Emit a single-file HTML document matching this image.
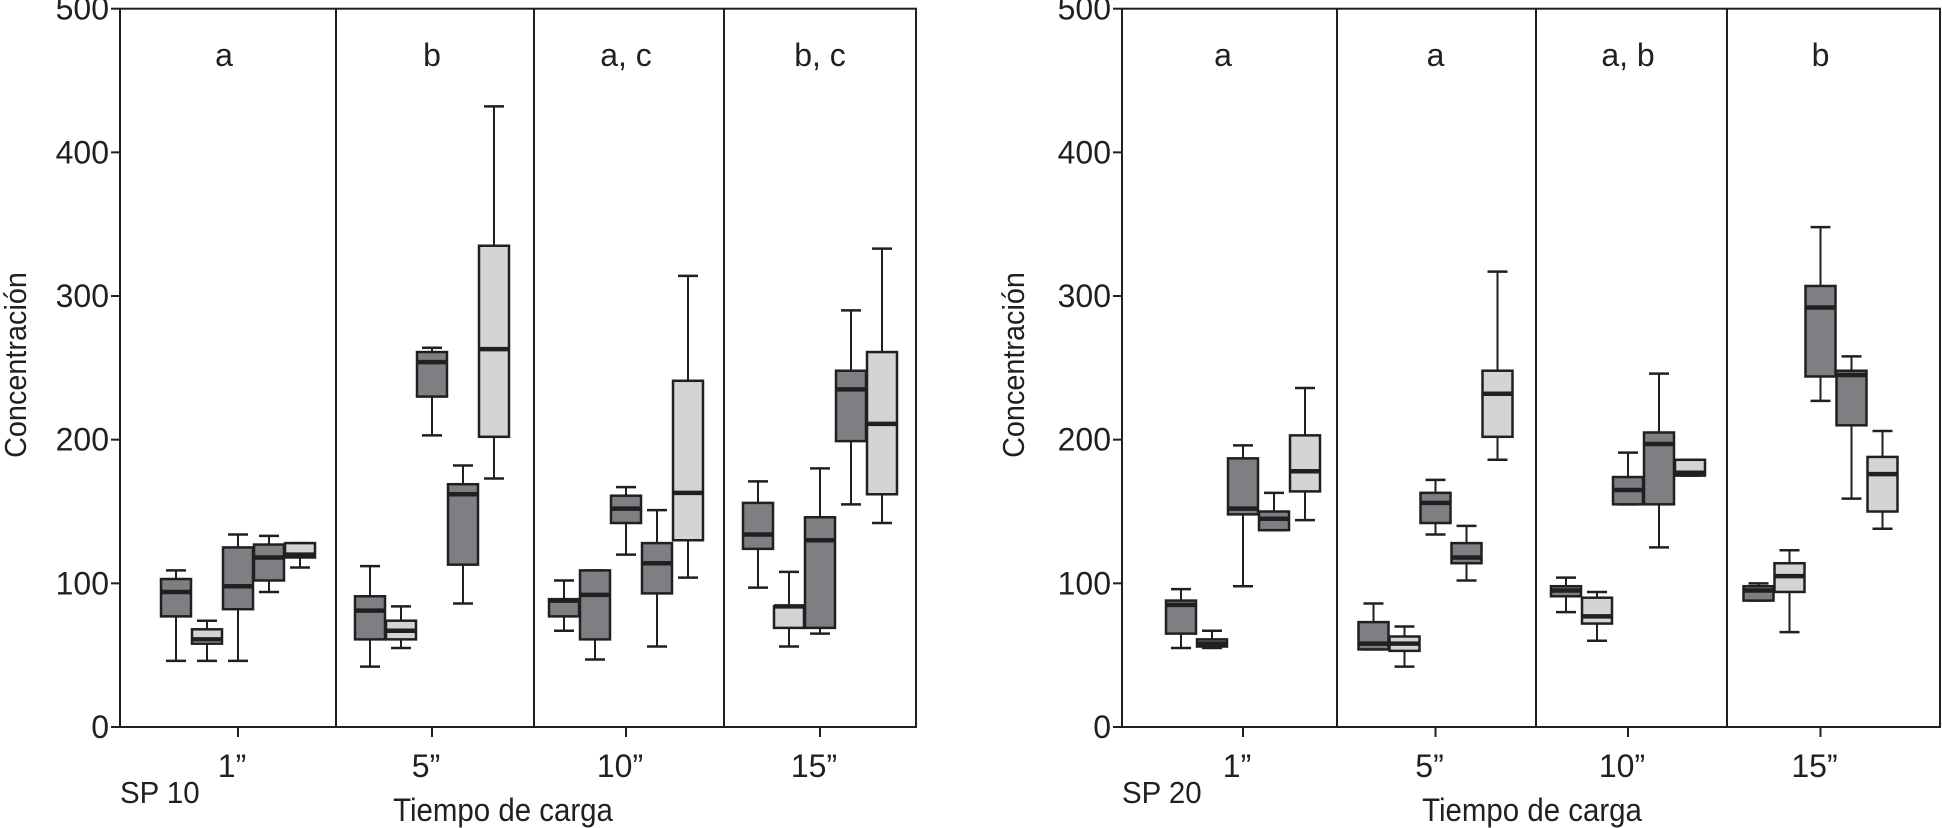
<!DOCTYPE html>
<html><head><meta charset="utf-8"><style>
html,body{margin:0;padding:0;background:#fff;}
svg{display:block;}
text{font-family:"Liberation Sans Narrow","Liberation Sans",sans-serif;fill:#231f20;}
</style></head><body>
<svg id="fig" width="1942" height="828" viewBox="0 0 1942 828" xmlns="http://www.w3.org/2000/svg"></svg>
<script>
const categories = ['1”','5”','10”','15”'];
const yTicks = [0,100,200,300,400,500];
// left (SP 10) boxes: [min, q1, median, q3, max]
const sp10Boxes = [
 [[46,77,94,103,109],[46,58,61,68,74],[46,82,98,125,134],[94,102,118,127,133],[111,118,120,128,128]],
 [[42,61,81,91,112],[55,61,67,74,84],[203,230,254,261,264],[86,113,162,169,182],[173,202,263,335,432]],
 [[67,77,88,89,102],[47,61,92,109,109],[120,142,152,161,167],[56,93,114,128,151],[104,130,163,241,314]],
 [[97,124,134,156,171],[56,69,84,84,108],[65,69,130,146,180],[155,199,235,248,290],[142,162,211,261,333]]
];
const sp10Shades = [['D','L','D','D','L'],['D','L','D','D','L'],['D','D','D','D','L'],['D','L','D','D','L']];
const sp10Letters = ['a','b','a, c','b, c'];
// right (SP 20)
const sp20Boxes = [
 [[55,65,85,88,96],[55,56,58,61,67],[98,148,152,187,196],[137,137,145,150,163],[144,164,178,203,236]],
 [[54,54,58,73,86],[42,53,58,63,70],[134,142,156,163,172],[102,114,118,128,140],[186,202,232,248,317]],
 [[80,91,95,98,104],[60,72,77,90,94],[155,155,165,174,191],[125,155,197,205,246],[175,175,177,186,186]],
 [[88,88,95,98,100],[66,94,105,114,123],[227,244,292,307,348],[159,210,245,248,258],[138,150,176,188,206]]
];
const sp20Shades = [['D','D','D','D','L'],['D','L','D','D','L'],['D','L','D','D','L'],['D','L','D','D','L']];
const sp20Letters = ['a','a','a, b','b'];

const svg = document.getElementById('fig');
const NS = 'http://www.w3.org/2000/svg';
function mk(tag, attrs, parent){
  const e = document.createElementNS(NS, tag);
  for (const k in attrs) e.setAttribute(k, attrs[k]);
  (parent||svg).appendChild(e);
  return e;
}
function txt(parent, x, y, s, size, anchor, rot, sx){
  const e = mk('text', {x:0, y:0, 'text-anchor':anchor, 'font-size':size,
    transform:'translate('+x+','+y+')'+(rot?' rotate(-90)':'')+' scale('+sx+',1)'}, parent);
  e.textContent = s;
  return e;
}
const Y0 = 727, Y1 = 8.7;
function yScale(v){ return Y0 - v*(Y0-Y1)/500; }
const INK = '#231f20';

function drawChart(cfg){
  const g = mk('g', {});
  
  
  const fr = mk('rect', {x:cfg.x0, y:Y1, width:cfg.x1-cfg.x0, height:Y0-Y1, fill:'none', stroke:INK, 'stroke-width':2}, g);
  
  
  cfg.dividers.forEach(function(dx){
    const l = mk('line', {x1:dx, x2:dx, y1:Y1, y2:Y0, stroke:INK, 'stroke-width':2}, g);
    
    
  });
  yTicks.forEach(function(t){
    const y = yScale(t);
    const tl = mk('line', {x1:cfg.x0-9, x2:cfg.x0, y1:y, y2:y, stroke:INK, 'stroke-width':2}, g);
    
    
    const tx = txt(g, cfg.x0-11, y+11, String(t), 32, 'end', false, 1);
    
    
  });
  const yt = txt(g, cfg.ytX, 365, 'Concentración', 31, 'middle', true, 0.93);
  
  
  categories.forEach(function(c, i){
    const cx = cfg.tick0 + i*cfg.tickStep;
    const tk = mk('line', {x1:cx, x2:cx, y1:Y0, y2:Y0+10, stroke:INK, 'stroke-width':2}, g);
    
    
    const lb = txt(g, cx-6, 777, c, 32, 'middle', false, 1);
    
    
    const lt = txt(g, cx - (i===0?cfg.firstLetterShift:0), 66, cfg.letters[i], 32, 'middle', false, 1);
    
    
    cfg.boxes[i].forEach(function(b, k){
      const bx = cx + (k-2)*31;
      const w = 30;
      const bg = mk('g', {}, g);
      
      
      const fill = cfg.shades[i][k]==='D' ? '#7e7f83' : '#d3d4d6';
      mk('line', {x1:bx, x2:bx, y1:yScale(b[4]), y2:yScale(b[3]), stroke:INK, 'stroke-width':2}, bg);
      mk('line', {x1:bx, x2:bx, y1:yScale(b[1]), y2:yScale(b[0]), stroke:INK, 'stroke-width':2}, bg);
      mk('line', {x1:bx-10, x2:bx+10, y1:yScale(b[4]), y2:yScale(b[4]), stroke:INK, 'stroke-width':2.5}, bg);
      mk('line', {x1:bx-10, x2:bx+10, y1:yScale(b[0]), y2:yScale(b[0]), stroke:INK, 'stroke-width':2.5}, bg);
      const h = Math.max(yScale(b[1]) - yScale(b[3]), 1);
      mk('rect', {x:bx-w/2, y:yScale(b[3]), width:w, height:h, fill:fill, stroke:INK, 'stroke-width':2.5}, bg);
      mk('line', {x1:bx-w/2, x2:bx+w/2, y1:yScale(b[2]), y2:yScale(b[2]), stroke:INK, 'stroke-width':4.5}, bg);
    });
  });
  const sp = txt(g, cfg.x0, 803, cfg.sp, 31, 'start', false, 0.95);
  
  
  const xt = txt(g, cfg.xtX, 821, 'Tiempo de carga', 32, 'middle', false, 0.92);
  
  
}

drawChart({name:'chart-sp10', x0:120, x1:916, dividers:[336,534,724], tick0:238, tickStep:194,
  boxes:sp10Boxes, shades:sp10Shades, letters:sp10Letters, sp:'SP 10', ytX:26, xtX:503, firstLetterShift:14});
drawChart({name:'chart-sp20', x0:1122, x1:1940, dividers:[1337,1536,1727], tick0:1243, tickStep:192.5,
  boxes:sp20Boxes, shades:sp20Shades, letters:sp20Letters, sp:'SP 20', ytX:1024, xtX:1532, firstLetterShift:20});
</script>
</body></html>
